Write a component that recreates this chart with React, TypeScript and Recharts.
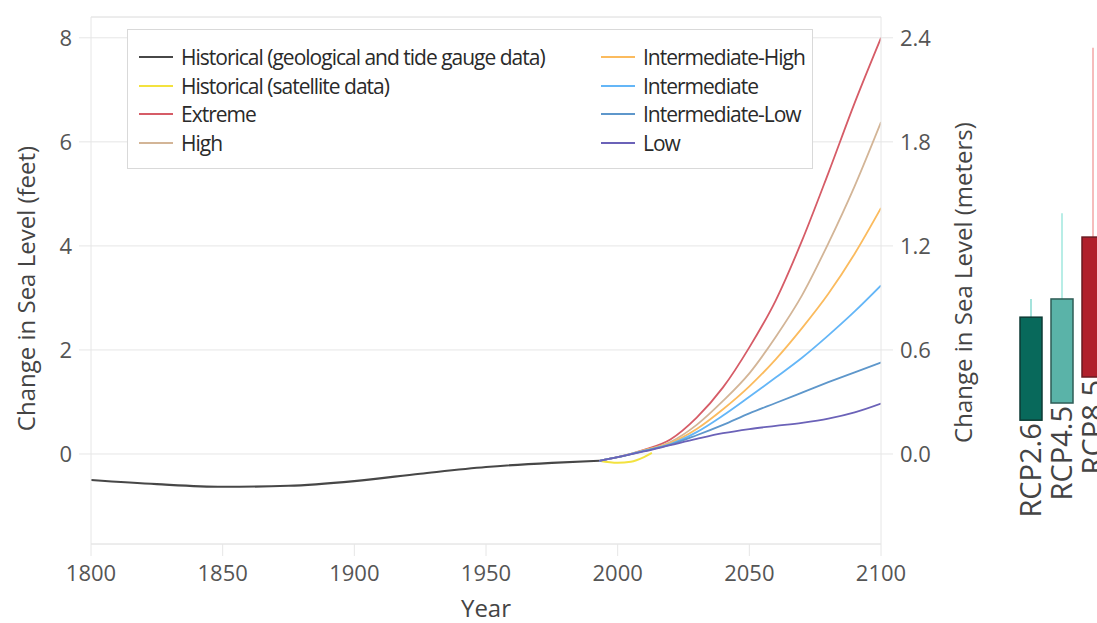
import React from 'react'
import {
  ComposedChart,
  Line,
  Bar,
  XAxis,
  YAxis,
  CartesianGrid,
  Legend,
  ReferenceLine
} from 'recharts'

// ---- data (feet) ----
const histYears = [1800, 1825, 1850, 1875, 1900, 1925, 1950, 1975, 1993]
const histFeet = [-0.5, -0.58, -0.63, -0.61, -0.52, -0.38, -0.25, -0.17, -0.13]

const satYears = [1993, 2000, 2005, 2010, 2013]
const satFeet = [-0.13, -0.17, -0.15, -0.06, 0.02]

const projYears = [1993, 2000, 2010, 2020, 2030, 2040, 2050, 2060, 2070, 2080, 2090, 2100]
const extremeFeet = [-0.13, -0.06, 0.08, 0.28, 0.7, 1.28, 2.05, 2.95, 4.1, 5.4, 6.75, 8.0]
const highFeet = [-0.13, -0.06, 0.07, 0.23, 0.56, 1.02, 1.55, 2.25, 3.05, 4.05, 5.15, 6.38]
const intHighFeet = [-0.13, -0.06, 0.07, 0.21, 0.48, 0.86, 1.3, 1.82, 2.42, 3.08, 3.85, 4.73]
const intermediateFeet = [-0.13, -0.06, 0.06, 0.19, 0.42, 0.74, 1.1, 1.47, 1.85, 2.28, 2.74, 3.24]
const intLowFeet = [-0.13, -0.06, 0.06, 0.18, 0.36, 0.56, 0.78, 0.98, 1.18, 1.38, 1.57, 1.76]
const lowFeet = [-0.13, -0.06, 0.05, 0.17, 0.29, 0.4, 0.48, 0.54, 0.6, 0.68, 0.8, 0.97]

const yearTicks = [1800, 1850, 1900, 1950, 2000, 2050, 2100]
const feetTicks = [0, 2, 4, 6, 8]
const meterTicks = [0, 0.6, 1.2, 1.8, 2.4]

const rcpNames = ['RCP2.6', 'RCP4.5', 'RCP8.5']
const rcpLow = [0.65, 0.98, 1.48]
const rcpHigh = [2.63, 2.98, 4.17]
const rcpWhisker = [2.98, 4.63, 7.81]

const FEET_DOMAIN: [number, number] = [-1.73, 8.4]
const M_PER_TICK = 0.3 // right axis labels sit on the feet gridlines

const FONT = '"Open Sans", "Noto Sans", sans-serif'
const GRID = '#e6e6e6'

const toRows = (years: number[], vals: number[]) => years.map((year, i) => ({ year, v: vals[i] }))

const series = [
  { name: 'Historical (geological and tide gauge data)', color: '#474747', width: 2.2, rows: toRows(histYears, histFeet) },
  { name: 'Historical (satellite data)', color: '#f3e23f', width: 2, rows: toRows(satYears, satFeet) },
  { name: 'Extreme', color: '#d65c67', width: 1.8, rows: toRows(projYears, extremeFeet) },
  { name: 'High', color: '#d3b597', width: 1.8, rows: toRows(projYears, highFeet) },
  { name: 'Intermediate-High', color: '#fbbb5e', width: 1.8, rows: toRows(projYears, intHighFeet) },
  { name: 'Intermediate', color: '#64b6f7', width: 1.8, rows: toRows(projYears, intermediateFeet) },
  { name: 'Intermediate-Low', color: '#5e97cb', width: 1.8, rows: toRows(projYears, intLowFeet) },
  { name: 'Low', color: '#6b62b8', width: 1.8, rows: toRows(projYears, lowFeet) }
]

const rcpFill = ['#08695b', '#5ab3a8', '#b01f2b']
const rcpEdge = ['#0d3a34', '#2e5c56', '#6a1a20']
const rcpWhiskerColor = ['#a5e3dc', '#b8ede6', '#f6bcbc']

const rcpRows = rcpNames.map((name, i) => ({
  name,
  low: rcpLow[i],
  high: rcpHigh[i],
  whisker: rcpWhisker[i],
  idx: i
}))

// legend keeps the series order (recharts would sort it by name)
const renderLegend = () => (
  <div style={{ boxSizing: 'border-box', width: 686, height: 140, border: '1px solid #d9d9d9', background: '#fff', position: 'relative', fontFamily: FONT }}>
    {series.map((s, i) => {
      const col = i < 4 ? 0 : 1
      const row = i % 4
      return (
        <div key={s.name} style={{ position: 'absolute', left: col ? 473 : 11, top: 13 + row * 28.6, height: 28, display: 'flex', alignItems: 'center' }}>
          <span style={{ display: 'inline-block', width: 34, height: 2, background: s.color, marginRight: 8 }} />
          <span style={{ fontSize: 21, letterSpacing: -1, color: '#2a2a2a', whiteSpace: 'nowrap', lineHeight: '28px' }}>{s.name}</span>
        </div>
      )
    })}
  </div>
)

const leftTitle = (props: any) => {
  const { x, y, height } = props.viewBox
  const cx = x + 25
  const cy = y + height / 2 + 8
  return (
    <text x={cx} y={cy} transform={`rotate(-90, ${cx}, ${cy})`} textAnchor="middle" dominantBaseline="central" fontSize={24} fill="#444" fontFamily={FONT}>
      Change in Sea Level (feet)
    </text>
  )
}

const rightTitle = (props: any) => {
  const { x, y, height } = props.viewBox
  const cx = x + 81
  const cy = y + height / 2 + 2
  return (
    <text x={cx} y={cy} transform={`rotate(-90, ${cx}, ${cy})`} textAnchor="middle" dominantBaseline="central" fontSize={24} fill="#444" fontFamily={FONT}>
      Change in Sea Level (meters)
    </text>
  )
}

const bottomTitle = (props: any) => {
  const { x, y, width } = props.viewBox
  return (
    <text x={x + width / 2} y={y + 73} textAnchor="middle" fontSize={24} fill="#444" fontFamily={FONT}>
      Year
    </text>
  )
}

// box + whisker + rotated label, sized from the bar's own pixel range
const RcpBox = (props: any) => {
  const { x, y, width, height, payload } = props
  const i = payload.idx
  const per = height / (payload.whisker - payload.low)
  const boxTop = y + (payload.whisker - payload.high) * per
  const bottom = y + height
  const cx = x + width / 2
  const ly = bottom + 3
  return (
    <g>
      <line x1={cx} x2={cx} y1={y} y2={boxTop} stroke={rcpWhiskerColor[i]} strokeWidth={2} />
      <rect x={x} y={boxTop} width={width} height={bottom - boxTop} fill={rcpFill[i]} stroke={rcpEdge[i]} strokeWidth={1.5} />
      <text x={cx - 1} y={ly} transform={`rotate(-90, ${cx - 1}, ${ly})`} textAnchor="end" dominantBaseline="central" fontSize={29} fill="#444" fontFamily={FONT}>
        {payload.name}
      </text>
    </g>
  )
}

export default function App() {
  return (
    <div style={{ position: 'absolute', left: 0, top: 0, width: 1097, height: 623, overflow: 'hidden', background: '#fff', fontFamily: FONT }}>
      <div style={{ position: 'absolute', left: 0, top: 0 }}>
        <ComposedChart width={1000} height={623} margin={{ top: 17, right: 0, bottom: 0, left: 0 }}>
          <CartesianGrid vertical={false} stroke={GRID} yAxisId="ft" />
          <XAxis
            dataKey="year"
            type="number"
            domain={[1800, 2100]}
            ticks={yearTicks}
            allowDataOverflow
            height={79}
            tickSize={12}
            tickMargin={9}
            tick={{ fill: '#555', fontSize: 22, fontFamily: FONT }}
            tickLine={{ stroke: GRID }}
            axisLine={{ stroke: GRID }}
            label={{ content: bottomTitle }}
          />
          <YAxis
            yAxisId="ft"
            domain={FEET_DOMAIN}
            ticks={feetTicks}
            allowDataOverflow
            width={91}
            tickSize={12}
            tickMargin={7}
            tick={{ fill: '#555', fontSize: 22, fontFamily: FONT }}
            tickLine={{ stroke: GRID }}
            axisLine={{ stroke: GRID }}
            label={{ content: leftTitle }}
          />
          <YAxis
            yAxisId="m"
            orientation="right"
            domain={[FEET_DOMAIN[0] * M_PER_TICK, FEET_DOMAIN[1] * M_PER_TICK]}
            ticks={meterTicks}
            allowDataOverflow
            width={119}
            tickSize={12}
            tickMargin={7}
            tickFormatter={(v: number) => v.toFixed(1)}
            tick={{ fill: '#555', fontSize: 22, fontFamily: FONT }}
            tickLine={{ stroke: GRID }}
            axisLine={{ stroke: GRID }}
            label={{ content: rightTitle }}
          />
          <ReferenceLine yAxisId="ft" y={FEET_DOMAIN[1]} stroke={GRID} />
          {series.map((s) => (
            <Line
              key={s.name}
              yAxisId="ft"
              data={s.rows}
              dataKey="v"
              name={s.name}
              type="monotone"
              stroke={s.color}
              strokeWidth={s.width}
              dot={false}
              activeDot={false}
              isAnimationActive={false}
            />
          ))}
          <Legend
            layout="vertical"
            align="center"
            verticalAlign="middle"
            wrapperStyle={{ left: 127, top: 29, width: 686, height: 140 }}
            content={renderLegend}
          />
        </ComposedChart>
      </div>
      <div style={{ position: 'absolute', left: 1015, top: 0 }}>
        <ComposedChart width={100} height={623} data={rcpRows} margin={{ top: 17, right: 7, bottom: 79, left: 0 }}>
          <XAxis dataKey="name" type="category" hide />
          <YAxis domain={FEET_DOMAIN} allowDataOverflow hide />
          <Bar dataKey={(d: any) => [d.low, d.whisker]} barSize={22} shape={RcpBox} isAnimationActive={false} />
        </ComposedChart>
      </div>
    </div>
  )
}
